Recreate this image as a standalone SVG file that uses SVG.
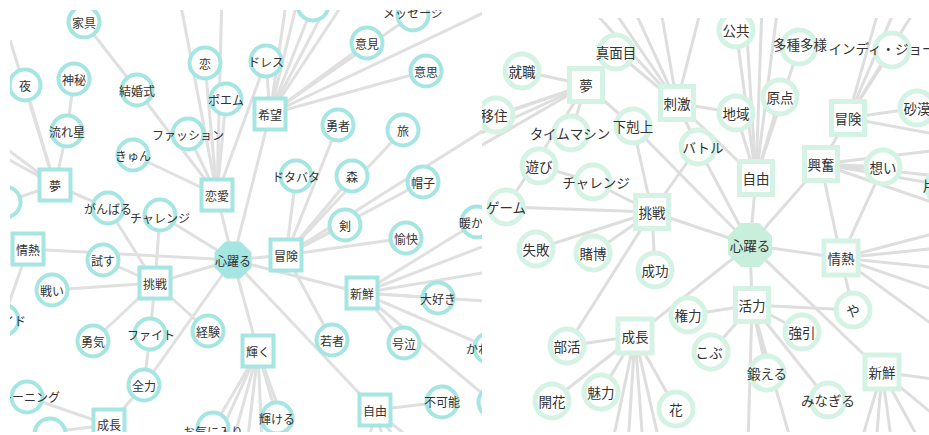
<svg xmlns="http://www.w3.org/2000/svg" width="929" height="435" viewBox="0 0 929 435">
<defs>
<clipPath id="clipL"><rect x="10" y="10" width="472" height="422"/></clipPath>
<clipPath id="clipR"><rect x="482" y="18" width="447" height="414"/></clipPath>
<style>
text{font-family:"Noto Sans CJK JP","Noto Sans",sans-serif;fill:#333;text-anchor:middle;dominant-baseline:central}
.L text{font-size:12px}
.R text{font-size:13.5px}
.eL line{stroke:#e0e0e0;stroke-width:3}
.eR line{stroke:#dedede;stroke-width:3}
.L circle{fill:#fff;stroke:#a5e5e2;stroke-width:4}
.L rect{fill:#fff;stroke:#a5e5e2;stroke-width:4}
.L polygon{fill:#a5e5e2;stroke:#a5e5e2;stroke-width:1}
.R circle{fill:#fff;stroke:#d5f3e4;stroke-width:5}
.R rect{fill:#fff;stroke:#d5f3e4;stroke-width:5}
.R polygon{fill:#c8efdb;stroke:#c8efdb;stroke-width:2;stroke-linejoin:round}
</style>
</defs>
<rect width="929" height="435" fill="#fff"/>

<g class="L" clip-path="url(#clipL)">
<g id="edgesL" class="eL">
<line x1="84" y1="22" x2="137" y2="90"/>
<line x1="137" y1="90" x2="217" y2="195"/>
<line x1="74" y1="79" x2="67" y2="131"/>
<line x1="67" y1="131" x2="55" y2="185"/>
<line x1="25" y1="85" x2="55" y2="185"/>
<line x1="55" y1="185" x2="10" y2="40"/>
<line x1="55" y1="185" x2="-5" y2="140"/>
<line x1="55" y1="185" x2="-5" y2="152"/>
<line x1="55" y1="185" x2="5" y2="202"/>
<line x1="55" y1="185" x2="108" y2="208"/>
<line x1="108" y1="208" x2="155" y2="283"/>
<line x1="160" y1="215" x2="155" y2="283"/>
<line x1="160" y1="215" x2="233" y2="260"/>
<line x1="133" y1="155" x2="217" y2="195"/>
<line x1="205" y1="63" x2="217" y2="195"/>
<line x1="226" y1="99" x2="217" y2="195"/>
<line x1="188" y1="134" x2="217" y2="195"/>
<line x1="217" y1="195" x2="178" y2="-10"/>
<line x1="217" y1="195" x2="222" y2="-10"/>
<line x1="266" y1="61" x2="217" y2="195"/>
<line x1="217" y1="195" x2="233" y2="260"/>
<line x1="270" y1="114" x2="233" y2="260"/>
<line x1="270" y1="114" x2="266" y2="61"/>
<line x1="270" y1="114" x2="288" y2="-10"/>
<line x1="270" y1="114" x2="300" y2="-10"/>
<line x1="270" y1="114" x2="313" y2="5"/>
<line x1="270" y1="114" x2="335" y2="-10"/>
<line x1="270" y1="114" x2="352" y2="-10"/>
<line x1="270" y1="114" x2="367" y2="43"/>
<line x1="270" y1="114" x2="413" y2="15"/>
<line x1="270" y1="114" x2="426" y2="71"/>
<line x1="270" y1="114" x2="500" y2="5"/>
<line x1="28" y1="249" x2="233" y2="260"/>
<line x1="28" y1="249" x2="3" y2="320"/>
<line x1="103" y1="260" x2="155" y2="283"/>
<line x1="52" y1="290" x2="155" y2="283"/>
<line x1="155" y1="283" x2="233" y2="260"/>
<line x1="155" y1="283" x2="93" y2="341"/>
<line x1="155" y1="283" x2="150" y2="334"/>
<line x1="155" y1="283" x2="208" y2="331"/>
<line x1="150" y1="334" x2="144" y2="385"/>
<line x1="144" y1="385" x2="233" y2="260"/>
<line x1="144" y1="385" x2="109" y2="425"/>
<line x1="27" y1="397" x2="109" y2="425"/>
<line x1="109" y1="425" x2="50" y2="432"/>
<line x1="233" y1="260" x2="286" y2="255"/>
<line x1="233" y1="260" x2="362" y2="293"/>
<line x1="233" y1="260" x2="258" y2="351"/>
<line x1="233" y1="260" x2="375" y2="410"/>
<line x1="286" y1="255" x2="345" y2="225"/>
<line x1="286" y1="255" x2="352" y2="176"/>
<line x1="286" y1="255" x2="403" y2="130"/>
<line x1="286" y1="255" x2="338" y2="125"/>
<line x1="286" y1="255" x2="296" y2="176"/>
<line x1="286" y1="255" x2="423" y2="182"/>
<line x1="286" y1="255" x2="406" y2="238"/>
<line x1="286" y1="255" x2="332" y2="340"/>
<line x1="286" y1="255" x2="500" y2="120"/>
<line x1="362" y1="293" x2="477" y2="222"/>
<line x1="362" y1="293" x2="500" y2="240"/>
<line x1="362" y1="293" x2="500" y2="270"/>
<line x1="362" y1="293" x2="500" y2="302"/>
<line x1="362" y1="293" x2="438" y2="298"/>
<line x1="362" y1="293" x2="404" y2="343"/>
<line x1="362" y1="293" x2="490" y2="348"/>
<line x1="362" y1="293" x2="490" y2="400"/>
<line x1="258" y1="351" x2="277" y2="418"/>
<line x1="258" y1="351" x2="215" y2="445"/>
<line x1="258" y1="351" x2="232" y2="445"/>
<line x1="258" y1="351" x2="247" y2="445"/>
<line x1="258" y1="351" x2="262" y2="445"/>
<line x1="258" y1="351" x2="292" y2="445"/>
<line x1="258" y1="351" x2="213" y2="428"/>
<line x1="375" y1="410" x2="442" y2="402"/>
<line x1="375" y1="410" x2="368" y2="445"/>
<line x1="375" y1="410" x2="385" y2="445"/>
<line x1="375" y1="410" x2="400" y2="445"/>
<line x1="375" y1="410" x2="418" y2="445"/>
</g>
<g id="L-kagu"><circle cx="84" cy="22" r="15.5"/><text x="84" y="22">家具</text></g>
<g id="L-yoru"><circle cx="25" cy="85" r="15.5"/><text x="25" y="85">夜</text></g>
<g id="L-shinpi"><circle cx="74" cy="79" r="15.5"/><text x="74" y="79">神秘</text></g>
<g id="L-kekkonshiki"><circle cx="137" cy="90" r="15.5"/><text x="137" y="90">結婚式</text></g>
<g id="L-koi"><circle cx="205" cy="63" r="15.5"/><text x="205" y="63">恋</text></g>
<g id="L-poemu"><circle cx="226" cy="99" r="15.5"/><text x="226" y="99">ポエム</text></g>
<g id="L-nagareboshi"><circle cx="67" cy="131" r="15.5"/><text x="67" y="131">流れ星</text></g>
<g id="L-fashion"><circle cx="188" cy="134" r="15.5"/><text x="188" y="134">ファッション</text></g>
<g id="L-kyun"><circle cx="133" cy="155" r="15.5"/><text x="133" y="155">きゅん</text></g>
<g id="L-leftA"><circle cx="5" cy="202" r="15.5"/></g>
<g id="L-ganbaru"><circle cx="108" cy="208" r="15.5"/><text x="108" y="208">がんばる</text></g>
<g id="L-challenge"><circle cx="160" cy="215" r="15.5"/><text x="160" y="217">チャレンジ</text></g>
<g id="L-topA"><circle cx="313" cy="5" r="15.5"/></g>
<g id="L-message"><circle cx="413" cy="15" r="15.5"/><text x="413" y="12">メッセージ</text></g>
<g id="L-iken"><circle cx="367" cy="43" r="15.5"/><text x="367" y="43">意見</text></g>
<g id="L-ishi"><circle cx="426" cy="71" r="15.5"/><text x="426" y="71">意思</text></g>
<g id="L-dress"><circle cx="266" cy="61" r="15.5"/><text x="266" y="61">ドレス</text></g>
<g id="L-yuusha"><circle cx="338" cy="125" r="15.5"/><text x="338" y="125">勇者</text></g>
<g id="L-tabi"><circle cx="403" cy="130" r="15.5"/><text x="403" y="130">旅</text></g>
<g id="L-dotabata"><circle cx="296" cy="176" r="15.5"/><text x="296" y="176">ドタバタ</text></g>
<g id="L-mori"><circle cx="352" cy="176" r="15.5"/><text x="352" y="176">森</text></g>
<g id="L-boushi"><circle cx="423" cy="182" r="15.5"/><text x="423" y="182">帽子</text></g>
<g id="L-tsurugi"><circle cx="345" cy="225" r="15.5"/><text x="345" y="225">剣</text></g>
<g id="L-yukai"><circle cx="406" cy="238" r="15.5"/><text x="406" y="238">愉快</text></g>
<g id="L-atatakai"><circle cx="477" cy="222" r="15.5"/><text x="477" y="222">暖かい</text></g>
<g id="L-tamesu"><circle cx="103" cy="260" r="15.5"/><text x="103" y="260">試す</text></g>
<g id="L-tatakai"><circle cx="52" cy="290" r="15.5"/><text x="52" y="290">戦い</text></g>
<g id="L-guide"><circle cx="3" cy="320" r="15.5"/><text x="8" y="320">ガイド</text></g>
<g id="L-yuuki"><circle cx="93" cy="341" r="15.5"/><text x="93" y="341">勇気</text></g>
<g id="L-fight"><circle cx="150" cy="334" r="15.5"/><text x="151" y="334">ファイト</text></g>
<g id="L-keiken"><circle cx="208" cy="331" r="15.5"/><text x="208" y="331">経験</text></g>
<g id="L-zenryoku"><circle cx="144" cy="385" r="15.5"/><text x="144" y="385">全力</text></g>
<g id="L-training"><circle cx="27" cy="397" r="15.5"/><text x="24" y="396">トレーニング</text></g>
<g id="L-bottomL"><circle cx="50" cy="434" r="15.5"/></g>
<g id="L-okiniiri"><circle cx="213" cy="428" r="15.5"/><text x="213" y="431">お気に入り</text></g>
<g id="L-daisuki"><circle cx="438" cy="298" r="15.5"/><text x="438" y="298">大好き</text></g>
<g id="L-wakamono"><circle cx="332" cy="340" r="15.5"/><text x="332" y="340">若者</text></g>
<g id="L-goukyuu"><circle cx="404" cy="343" r="15.5"/><text x="404" y="343">号泣</text></g>
<g id="L-kawaii"><circle cx="490" cy="348" r="15.5"/><text x="490" y="348">かわいい</text></g>
<g id="L-kagayakeru"><circle cx="277" cy="418" r="15.5"/><text x="277" y="418">輝ける</text></g>
<g id="L-fukanou"><circle cx="442" cy="402" r="15.5"/><text x="442" y="401">不可能</text></g>
<g id="L-rightB"><circle cx="494" cy="402" r="15.5"/></g>
<g id="L-yume"><rect x="39.5" y="169.5" width="31" height="31"/><text x="55" y="185">夢</text></g>
<g id="L-renai"><rect x="201.5" y="179.5" width="31" height="31"/><text x="217" y="195">恋愛</text></g>
<g id="L-kibou"><rect x="254.5" y="98.5" width="31" height="31"/><text x="270" y="114">希望</text></g>
<g id="L-jounetsu"><rect x="12.5" y="233.5" width="31" height="31"/><text x="28" y="249">情熱</text></g>
<g id="L-chousen"><rect x="139.5" y="267.5" width="31" height="31"/><text x="155" y="283">挑戦</text></g>
<g id="L-bouken"><rect x="270.5" y="239.5" width="31" height="31"/><text x="286" y="255">冒険</text></g>
<g id="L-shinsen"><rect x="346.5" y="277.5" width="31" height="31"/><text x="362" y="293">新鮮</text></g>
<g id="L-kagayaku"><rect x="242.5" y="335.5" width="31" height="31"/><text x="258" y="351">輝く</text></g>
<g id="L-jiyuu"><rect x="359.5" y="394.5" width="31" height="31"/><text x="375" y="410">自由</text></g>
<g id="L-seichou"><rect x="93.5" y="409.5" width="31" height="31"/><text x="109" y="424">成長</text></g>
<g id="L-kokoroodoru"><polygon points="251,267.5 240.5,278 225.5,278 215,267.5 215,252.5 225.5,242 240.5,242 251,252.5"/><text x="233" y="260">心躍る</text></g>
</g>

<g class="R" clip-path="url(#clipR)">
<g id="edgesR" class="eR">
<line x1="586" y1="85" x2="522" y2="71"/>
<line x1="586" y1="85" x2="496" y2="115"/>
<line x1="586" y1="85" x2="470" y2="125"/>
<line x1="586" y1="85" x2="470" y2="138"/>
<line x1="586" y1="85" x2="470" y2="152"/>
<line x1="586" y1="85" x2="571" y2="133"/>
<line x1="586" y1="85" x2="633" y2="126"/>
<line x1="586" y1="85" x2="506" y2="207"/>
<line x1="677" y1="103" x2="616" y2="52"/>
<line x1="677" y1="103" x2="588" y2="5"/>
<line x1="677" y1="103" x2="610" y2="5"/>
<line x1="677" y1="103" x2="632" y2="5"/>
<line x1="677" y1="103" x2="660" y2="5"/>
<line x1="677" y1="103" x2="702" y2="5"/>
<line x1="677" y1="103" x2="698" y2="147"/>
<line x1="677" y1="103" x2="756" y2="178"/>
<line x1="677" y1="103" x2="736" y2="113"/>
<line x1="633" y1="126" x2="652" y2="212"/>
<line x1="633" y1="126" x2="750" y2="245"/>
<line x1="539" y1="166" x2="593" y2="182"/>
<line x1="593" y1="182" x2="652" y2="212"/>
<line x1="506" y1="207" x2="652" y2="212"/>
<line x1="698" y1="147" x2="652" y2="212"/>
<line x1="698" y1="147" x2="750" y2="245"/>
<line x1="652" y1="212" x2="536" y2="249"/>
<line x1="652" y1="212" x2="593" y2="253"/>
<line x1="652" y1="212" x2="655" y2="270"/>
<line x1="652" y1="212" x2="567" y2="346"/>
<line x1="652" y1="212" x2="750" y2="245"/>
<line x1="736" y1="30" x2="756" y2="178"/>
<line x1="756" y1="178" x2="745" y2="5"/>
<line x1="756" y1="178" x2="762" y2="5"/>
<line x1="756" y1="178" x2="778" y2="5"/>
<line x1="736" y1="113" x2="756" y2="178"/>
<line x1="780" y1="97" x2="756" y2="178"/>
<line x1="799" y1="47" x2="756" y2="178"/>
<line x1="756" y1="178" x2="750" y2="245"/>
<line x1="848" y1="118" x2="892" y2="50"/>
<line x1="848" y1="118" x2="880" y2="5"/>
<line x1="848" y1="118" x2="897" y2="5"/>
<line x1="848" y1="118" x2="918" y2="5"/>
<line x1="848" y1="118" x2="917" y2="108"/>
<line x1="848" y1="118" x2="940" y2="135"/>
<line x1="848" y1="118" x2="821" y2="164"/>
<line x1="821" y1="164" x2="883" y2="167"/>
<line x1="821" y1="164" x2="940" y2="150"/>
<line x1="821" y1="164" x2="940" y2="176"/>
<line x1="821" y1="164" x2="942" y2="185"/>
<line x1="821" y1="164" x2="940" y2="205"/>
<line x1="821" y1="164" x2="750" y2="245"/>
<line x1="821" y1="164" x2="841" y2="258"/>
<line x1="841" y1="258" x2="883" y2="167"/>
<line x1="750" y1="245" x2="841" y2="258"/>
<line x1="750" y1="245" x2="752" y2="305"/>
<line x1="750" y1="245" x2="882" y2="372"/>
<line x1="635" y1="336" x2="750" y2="245"/>
<line x1="841" y1="258" x2="853" y2="310"/>
<line x1="841" y1="258" x2="940" y2="232"/>
<line x1="841" y1="258" x2="940" y2="248"/>
<line x1="841" y1="258" x2="940" y2="268"/>
<line x1="841" y1="258" x2="940" y2="292"/>
<line x1="841" y1="258" x2="940" y2="330"/>
<line x1="752" y1="305" x2="688" y2="315"/>
<line x1="752" y1="305" x2="711" y2="352"/>
<line x1="752" y1="305" x2="853" y2="310"/>
<line x1="752" y1="305" x2="802" y2="332"/>
<line x1="752" y1="305" x2="767" y2="373"/>
<line x1="752" y1="305" x2="828" y2="400"/>
<line x1="752" y1="305" x2="748" y2="445"/>
<line x1="752" y1="305" x2="792" y2="445"/>
<line x1="635" y1="336" x2="567" y2="346"/>
<line x1="635" y1="336" x2="552" y2="401"/>
<line x1="635" y1="336" x2="601" y2="392"/>
<line x1="635" y1="336" x2="676" y2="409"/>
<line x1="635" y1="336" x2="612" y2="445"/>
<line x1="635" y1="336" x2="628" y2="445"/>
<line x1="635" y1="336" x2="643" y2="445"/>
<line x1="635" y1="336" x2="660" y2="445"/>
<line x1="882" y1="372" x2="860" y2="445"/>
<line x1="882" y1="372" x2="876" y2="445"/>
<line x1="882" y1="372" x2="892" y2="445"/>
<line x1="882" y1="372" x2="922" y2="445"/>
<line x1="882" y1="372" x2="940" y2="380"/>
<line x1="882" y1="372" x2="940" y2="420"/>
</g>
<g id="R-majime"><circle cx="616" cy="52" r="17"/><text x="616" y="52">真面目</text></g>
<g id="R-shuushoku"><circle cx="522" cy="71" r="17"/><text x="522" y="71">就職</text></g>
<g id="R-ijuu"><circle cx="496" cy="115" r="17"/><text x="494" y="115">移住</text></g>
<g id="R-gekokujou"><circle cx="633" cy="126" r="17"/><text x="633" y="126">下剋上</text></g>
<g id="R-timemachine"><circle cx="571" cy="133" r="17"/><text x="570" y="133">タイムマシン</text></g>
<g id="R-battle"><circle cx="698" cy="147" r="17"/><text x="703" y="147">バトル</text></g>
<g id="R-asobi"><circle cx="539" cy="166" r="17"/><text x="539" y="166">遊び</text></g>
<g id="R-challenge"><circle cx="593" cy="182" r="17"/><text x="596" y="182">チャレンジ</text></g>
<g id="R-game"><circle cx="506" cy="207" r="17"/><text x="506" y="207">ゲーム</text></g>
<g id="R-koukyou"><circle cx="736" cy="30" r="17"/><text x="736" y="30">公共</text></g>
<g id="R-tashutayou"><circle cx="799" cy="47" r="17"/><text x="800" y="44">多種多様</text></g>
<g id="R-indy"><circle cx="892" cy="50" r="17"/><text x="895" y="48">インディ・ジョーンズ</text></g>
<g id="R-genten"><circle cx="780" cy="97" r="17"/><text x="780" y="97">原点</text></g>
<g id="R-chiiki"><circle cx="736" cy="113" r="17"/><text x="736" y="113">地域</text></g>
<g id="R-sabaku"><circle cx="917" cy="108" r="17"/><text x="917" y="108">砂漠</text></g>
<g id="R-omoi"><circle cx="883" cy="167" r="17"/><text x="883" y="167">想い</text></g>
<g id="R-kataomoi"><circle cx="943" cy="186" r="17"/><text x="943" y="185">片思い</text></g>
<g id="R-shippai"><circle cx="536" cy="249" r="17"/><text x="536" y="249">失敗</text></g>
<g id="R-tobaku"><circle cx="593" cy="253" r="17"/><text x="593" y="253">賭博</text></g>
<g id="R-seikou"><circle cx="655" cy="270" r="17"/><text x="655" y="270">成功</text></g>
<g id="R-kenryoku"><circle cx="688" cy="315" r="17"/><text x="688" y="315">権力</text></g>
<g id="R-bukatsu"><circle cx="567" cy="346" r="17"/><text x="567" y="346">部活</text></g>
<g id="R-kobu"><circle cx="711" cy="352" r="17"/><text x="709" y="352">こぶ</text></g>
<g id="R-kaika"><circle cx="552" cy="401" r="17"/><text x="552" y="401">開花</text></g>
<g id="R-miryoku"><circle cx="601" cy="392" r="17"/><text x="601" y="392">魅力</text></g>
<g id="R-hana"><circle cx="676" cy="409" r="17"/><text x="676" y="409">花</text></g>
<g id="R-ya"><circle cx="853" cy="310" r="17"/><text x="853" y="310">や</text></g>
<g id="R-gouin"><circle cx="802" cy="332" r="17"/><text x="802" y="332">強引</text></g>
<g id="R-kitaeru"><circle cx="767" cy="373" r="17"/><text x="767" y="373">鍛える</text></g>
<g id="R-minagiru"><circle cx="828" cy="400" r="17"/><text x="828" y="400">みなぎる</text></g>
<g id="R-yume"><rect x="569.5" y="68.5" width="33" height="33"/><text x="586" y="85">夢</text></g>
<g id="R-shigeki"><rect x="660.5" y="86.5" width="33" height="33"/><text x="677" y="103">刺激</text></g>
<g id="R-chousen"><rect x="635.5" y="195.5" width="33" height="33"/><text x="652" y="212">挑戦</text></g>
<g id="R-bouken"><rect x="831.5" y="101.5" width="33" height="33"/><text x="848" y="118">冒険</text></g>
<g id="R-koufun"><rect x="804.5" y="147.5" width="33" height="33"/><text x="821" y="164">興奮</text></g>
<g id="R-jiyuu"><rect x="739.5" y="161.5" width="33" height="33"/><text x="756" y="178">自由</text></g>
<g id="R-seichou"><rect x="618" y="319" width="34" height="34"/><text x="635" y="336">成長</text></g>
<g id="R-jounetsu"><rect x="824" y="241" width="34" height="34"/><text x="841" y="258">情熱</text></g>
<g id="R-katsuryoku"><rect x="735.5" y="288.5" width="33" height="33"/><text x="752" y="305">活力</text></g>
<g id="R-shinsen"><rect x="865" y="355" width="34" height="34"/><text x="882" y="372">新鮮</text></g>
<g id="R-kokoroodoru"><polygon points="771,253.8 758.8,266 741.2,266 729,253.8 729,236.2 741.2,224 758.8,224 771,236.2"/><text x="750" y="245">心躍る</text></g>
</g>
</svg>
